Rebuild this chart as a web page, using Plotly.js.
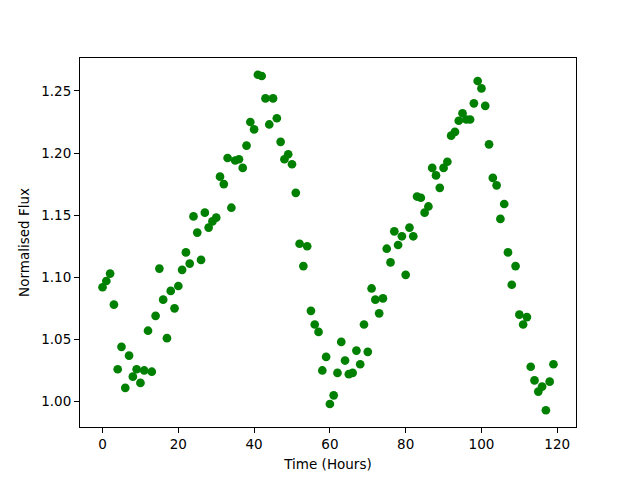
<!DOCTYPE html>
<html>
<head>
<meta charset="utf-8">
<script src="https://cdn.plot.ly/plotly-3.0.1.min.js"></script>
<style>html,body{margin:0;padding:0;background:#fff;}</style>
</head>
<body>
<div id="chart" style="width:640px;height:480px;"></div>
<script>
const timeHours = [
  0,1,2,3,4,5,6,7,8,9,10,11,12,13,14,15,16,17,18,19,
  20,21,22,23,24,25,26,27,28,29,30,31,32,33,34,35,36,37,38,39,
  40,41,42,43,44,45,46,47,48,49,50,51,52,53,54,55,56,57,58,59,
  60,61,62,63,64,65,66,67,68,69,70,71,72,73,74,75,76,77,78,79,
  80,81,82,83,84,85,86,87,88,89,90,91,92,93,94,95,96,97,98,99,
  100,101,102,103,104,105,106,107,108,109,110,111,112,113,114,115,116,117,118,119
];
const normalisedFlux = [
  1.092,1.097,1.103,1.078,1.026,1.044,1.011,1.037,1.020,1.026,
  1.015,1.025,1.057,1.024,1.069,1.107,1.082,1.051,1.089,1.075,
  1.093,1.106,1.120,1.111,1.149,1.136,1.114,1.152,1.140,1.145,
  1.148,1.181,1.175,1.196,1.156,1.194,1.195,1.188,1.206,1.225,
  1.219,1.263,1.262,1.244,1.223,1.244,1.228,1.209,1.195,1.199,
  1.191,1.168,1.127,1.109,1.125,1.073,1.062,1.056,1.025,1.036,
  0.998,1.005,1.023,1.048,1.033,1.022,1.023,1.041,1.030,1.062,
  1.040,1.091,1.082,1.071,1.083,1.123,1.112,1.137,1.126,1.133,
  1.102,1.140,1.133,1.165,1.164,1.152,1.157,1.188,1.182,1.172,
  1.188,1.193,1.214,1.217,1.226,1.232,1.227,1.227,1.240,1.258,
  1.252,1.238,1.207,1.180,1.174,1.147,1.159,1.120,1.094,1.109,
  1.070,1.062,1.068,1.028,1.017,1.008,1.012,0.993,1.016,1.030
];
const xTicks = [0,20,40,60,80,100,120];
const yTicks = [1.00,1.05,1.10,1.15,1.20,1.25];

const font = {family: 'DejaVu Sans, sans-serif', size: 13.5, color: '#000'};

const trace = {
  x: timeHours,
  y: normalisedFlux,
  type: 'scatter',
  mode: 'markers',
  marker: {color: '#008000', size: 8.7},
  hoverinfo: 'none'
};

const xmin = Math.min(...timeHours), xmax = Math.max(...timeHours);
const ymin = Math.min(...normalisedFlux), ymax = Math.max(...normalisedFlux);
const xpad = (xmax - xmin) * 0.05, ypad = (ymax - ymin) * 0.05;

const layout = {
  width: 640, height: 480,
  margin: {l: 80, r: 64, t: 58, b: 53, pad: 0},
  paper_bgcolor: '#fff', plot_bgcolor: '#fff',
  showlegend: false,
  font: font,
  xaxis: {
    range: [xmin - xpad, xmax + xpad],
    tickvals: xTicks, ticktext: xTicks.map(String),
    ticks: 'outside', ticklen: 5, tickwidth: 1, tickcolor: '#000',
    showline: true, mirror: true, linecolor: '#000', linewidth: 1,
    showgrid: false, zeroline: false,
    tickfont: font,
    title: {text: 'Time (Hours)', font: font, standoff: 8}
  },
  yaxis: {
    range: [ymin - ypad, ymax + ypad],
    tickvals: yTicks, ticktext: yTicks.map(v => v.toFixed(2)),
    ticks: 'outside', ticklen: 5, tickwidth: 1, tickcolor: '#000',
    showline: true, mirror: true, linecolor: '#000', linewidth: 1,
    showgrid: false, zeroline: false,
    tickfont: font,
    title: {text: 'Normalised Flux', font: font, standoff: 8}
  }
};

Plotly.newPlot('chart', [trace], layout, {staticPlot: true, displayModeBar: false});
</script>
</body>
</html>
